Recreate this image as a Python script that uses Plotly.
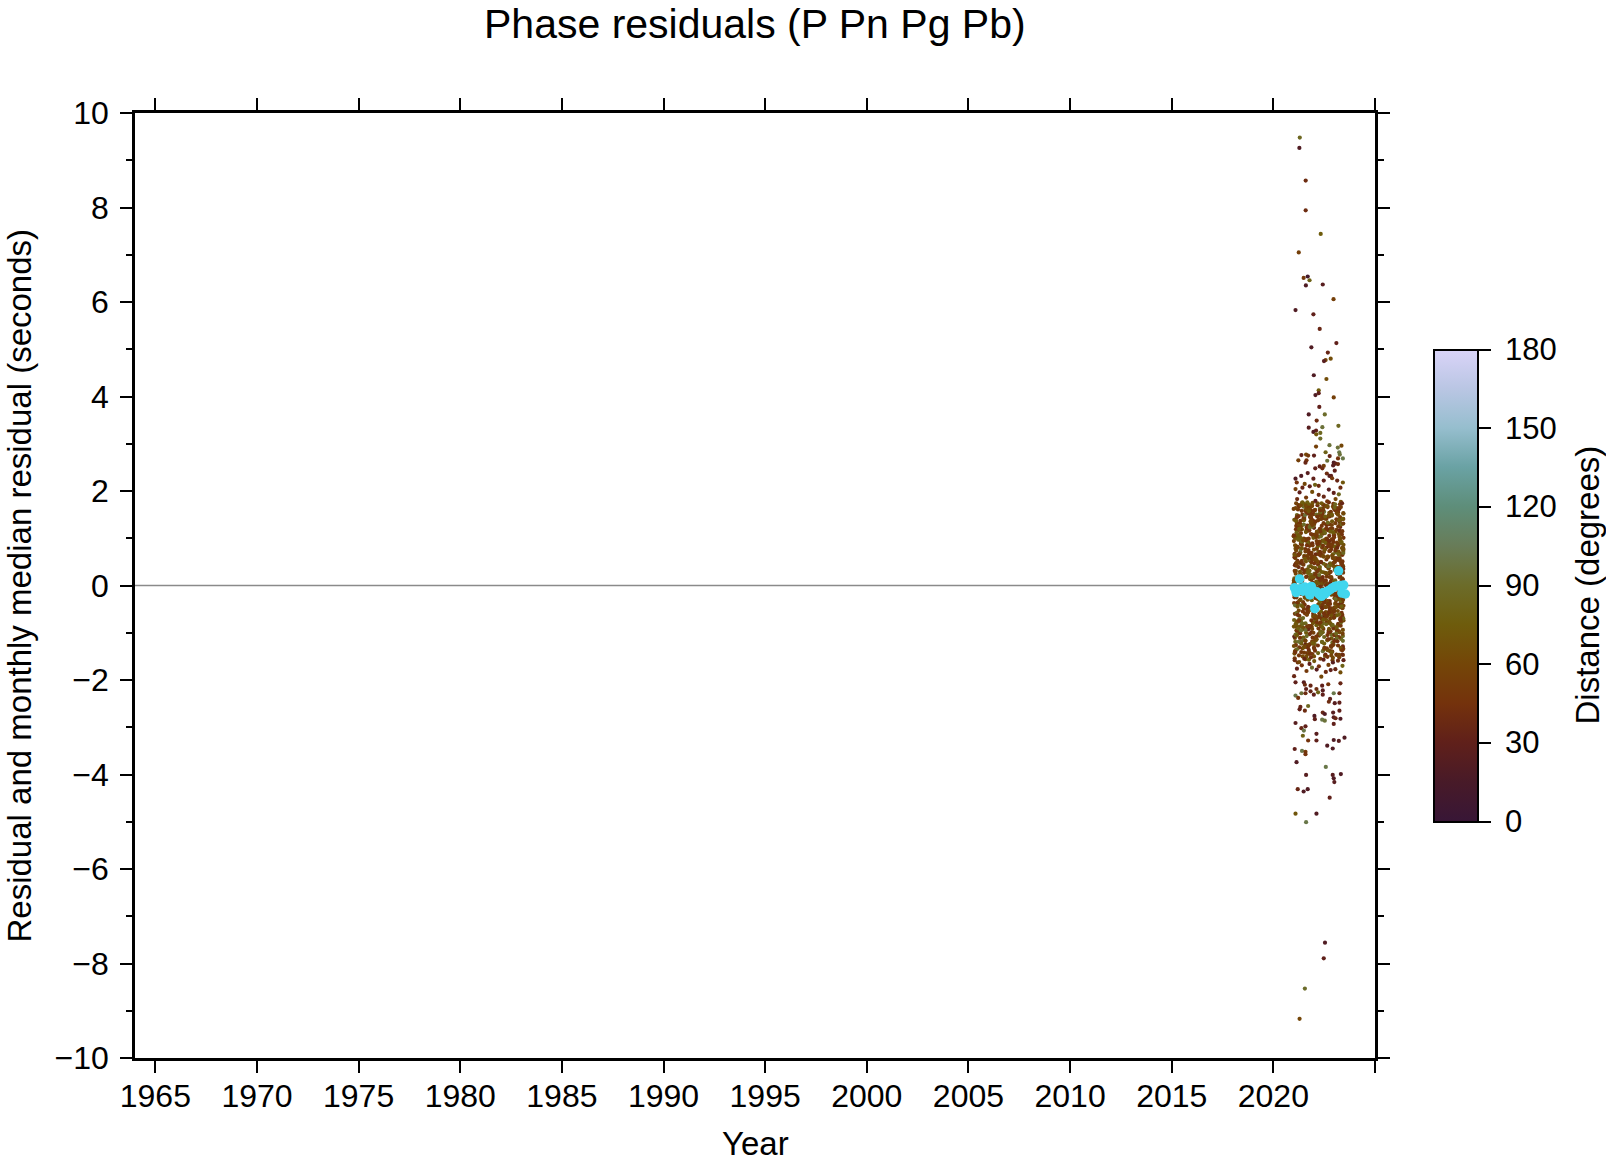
import plotly.graph_objects as go

# ---------------- data ----------------
# dense cloud: year offset after 2021.00 (hundredths of a year), residual (hundredths of s), distance (deg)
dense_dx = [
    12, 187, 94, 233, 41, 158, 76, 209, 3, 121, 66, 240, 135, 28, 181, 99, 217, 54, 146, 7,
    172, 85, 226, 37, 113, 198, 60, 244, 19, 139, 92, 165, 48, 205, 128, 15, 236, 71, 154, 104,
    33, 219, 150, 5, 97, 183, 62, 131, 241, 24, 176, 88, 211, 117, 46, 192, 9, 142, 229, 79,
    201, 57, 125, 16, 238, 167, 101, 30, 213, 83, 147, 1, 190, 68, 223, 110, 39, 161, 245, 91,
    145, 22, 203, 74, 118, 188, 11, 231, 52, 170, 96, 137, 214, 35, 81, 156, 243, 64, 127, 196,
    6, 163, 108, 221, 43, 179, 87, 132, 227, 18, 199, 59, 148, 237, 95, 26, 174, 115, 69, 208,
    124, 239, 50, 185, 14, 102, 159, 216, 77, 140, 32, 195, 89, 234, 120, 8, 168, 45, 206, 153,
    71, 193, 27, 144, 232, 98, 10, 178, 63, 119, 224, 40, 157, 85, 212, 134, 2, 186, 107, 242,
    189, 36, 129, 217, 75, 162, 21, 100, 236, 55, 143, 197, 13, 111, 228, 80, 171, 47, 207, 126,
    58, 141, 230, 90, 4, 175, 116, 200, 34, 152, 67, 244, 103, 184, 23, 136, 220, 78, 166, 42,
    160, 17, 215, 109, 51, 235, 130, 73, 194, 29, 149, 86, 225, 61, 180, 0, 123, 241, 93, 204,
    38, 177, 84, 240, 133, 20, 210, 155, 65, 112, 191, 44, 222, 99, 11, 169, 138, 54, 233, 76,
    218, 106, 31, 164, 70, 238, 145, 7, 187, 122, 49, 202, 92, 15, 151, 226, 82, 173, 25, 118,
    97, 245, 53, 139, 16, 182, 68, 219, 127, 3, 158, 231, 40, 105, 197, 79, 209, 33, 146, 64,
    171, 26, 114, 229, 87, 149, 9, 199, 58, 236, 128, 43, 184, 72, 213, 101, 19, 162, 240, 136,
    45, 206, 131, 12, 95, 175, 242, 62, 117, 190, 28, 153, 81, 224, 108, 37, 193, 141, 6, 221,
    154, 83, 232, 47, 168, 110, 21, 204, 74, 140, 243, 56, 188, 125, 14, 97, 216, 35, 179, 89,
    234, 60, 147, 1, 195, 120, 226, 42, 166, 77, 103, 211, 30, 137, 245, 67, 185, 119, 8, 159,
    18, 183, 98, 239, 51, 135, 205, 85, 10, 160, 228, 113, 39, 192, 70, 143, 24, 217, 93, 174,
    129, 44, 208, 150, 25, 96, 237, 172, 61, 115, 2, 198, 84, 163, 231, 48, 132, 13, 189, 106,
    200, 73, 167, 22, 121, 242, 57, 144, 88, 220, 31, 181, 109, 5, 156, 235, 66, 126, 197, 40,
    82, 214, 11, 138, 186, 53, 104, 227, 19, 170, 92, 243, 46, 201, 134, 27, 161, 75, 222, 112,
    148, 35, 223, 80, 0, 177, 124, 63, 210, 102, 239, 16, 155, 91, 194, 41, 230, 118, 59, 183,
    23, 196, 116, 244, 69, 142, 8, 178, 229, 54, 130, 212, 36, 165, 94, 20, 203, 86, 152, 238,
    111, 241, 49, 191, 136, 15, 218, 76, 157, 29, 107, 186, 65, 233, 127, 4, 172, 99, 225, 50,
    195, 67, 139, 7, 215, 90, 169, 43, 245, 122, 17, 181, 74, 151, 234, 58, 108, 207, 33, 164,
    52, 158, 228, 101, 39, 192, 123, 1, 175, 237, 86, 140, 24, 209, 68, 117, 240, 12, 146, 78,
    179, 30, 95, 204, 128, 221, 56, 161, 14, 114, 236, 71, 189, 46, 100, 166, 3, 219, 135, 87,
    9, 133, 244, 61, 173, 26, 105, 232, 79, 198, 37, 150, 120, 214, 18, 188, 57, 242, 94, 170,
    216, 103, 34, 160, 242, 72, 193, 119, 48, 227, 144, 6, 176, 83, 205, 131, 21, 97, 185, 64,
    87, 211, 14, 156, 228, 63, 134, 5, 182, 99, 240, 41, 173, 118, 26, 197, 75, 145, 222, 52,
    166, 33, 107, 235, 72, 190, 17, 128, 59, 214, 93, 3, 158, 244, 81, 136, 39, 203, 115, 20,
    241, 96, 177, 44, 130, 8, 219, 67, 151, 24, 187, 110, 233, 56, 142, 84, 199, 12, 168, 102,
    31, 148, 62, 207, 119, 238, 79, 181, 2, 164, 45, 226, 91, 137, 16, 213, 68, 124, 194, 57,
    205, 11, 139, 86, 245, 38, 172, 113, 220, 64, 153, 28, 184, 100, 6, 231, 127, 49, 162, 92,
    121, 230, 47, 169, 22, 195, 88, 143, 236, 70, 10, 179, 106, 53, 218, 133, 29, 208, 77, 157,
    66, 183, 125, 1, 209, 98, 152, 37, 240, 115, 191, 82, 19, 227, 58, 167, 104, 242, 35, 140,
    174, 42, 223, 94, 149, 13, 201, 76, 126, 234, 51, 188, 9, 161, 109, 27, 215, 89, 146, 239,
    15, 129, 198, 61, 237, 105, 34, 170, 85, 216, 141, 4, 193, 73, 225, 117, 46, 178, 97, 212,
    224, 78, 155, 32, 112, 243, 65, 186, 21, 132, 204, 50, 176, 95, 7, 150, 229, 83, 123, 40,
    138, 3, 192, 71, 163, 25, 229, 108, 48, 200, 90, 144, 235, 18, 131, 60, 185, 101, 244, 74,
    55, 217, 103, 180, 36, 122, 244, 80, 159, 12, 206, 69, 114, 232, 43, 171, 93, 0, 189, 135,
    196, 64, 147, 28, 221, 87, 166, 9, 135, 238, 54, 175, 111, 37, 210, 82, 152, 227, 19, 120,
    43, 175, 238, 116, 57, 202, 19, 154, 91, 226, 130, 68, 187, 6, 99, 244, 141, 30, 214, 84,
    110, 8, 183, 66, 137, 230, 47, 199, 125, 17, 165, 86, 220, 53, 145, 1, 193, 74, 242, 160,
    232, 89, 21, 150, 203, 39, 118, 176, 62, 241, 97, 157, 29, 213, 80, 127, 11, 184, 58, 106,
    77, 160, 225, 3, 94, 188, 135, 44, 212, 119, 26, 171, 239, 69, 149, 35, 206, 113, 16, 192,
    185, 27, 120, 243, 61, 143, 10, 219, 84, 168, 50, 230, 103, 177, 22, 131, 245, 71, 155, 38,
    4, 141, 209, 87, 174, 31, 100, 236, 149, 59, 196, 13, 124, 80, 218, 166, 42, 111, 228, 93,
    153, 218, 55, 132, 14, 179, 242, 92, 36, 205, 121, 163, 75, 1, 189, 108, 224, 48, 139, 65,
]
dense_res = [
    45, -112, 137, -38, 92, 11, -87, 164, -5, 71, -143, 28, 118, -64, 153, -21, 84, -128, 6, 59,
    -96, 132, 17, -71, 108, -19, 161, -134, 52, -47, 89, -8, 142, -115, 34, 127, -58, 73, -149, 103,
    22, -81, 156, 67, -122, 9, 115, -33, 81, -101, 146, -15, 40, 170, -69, 98, -137, 13, 124, -52,
    -27, 77, -106, 149, 3, -61, 130, 48, -93, 166, -12, 105, -140, 63, -44, 19, 158, -78, 86, -118,
    111, -3, 55, -127, 174, -49, 31, -85, 139, 95, -66, 2, -109, 121, 69, -146, 37, -24, 150, -91,
    -60, 128, -17, 87, -133, 47, -99, 16, 172, -41, 102, -125, 61, -7, 136, -76, 26, 113, -56, 79,
    140, -35, 99, -104, 12, 159, -72, 57, -141, 83, 24, -89, 168, -11, 44, -119, 117, 0, -63, 93,
    -14, 66, -131, 110, -46, 151, 25, -98, 74, -29, 162, -83, 8, 126, -147, 50, -37, 97, 135, -107,
    82, -120, 39, -54, 165, 4, -94, 122, -30, 58, -139, 107, 15, -74, 145, -2, 90, -111, 32, -43,
    -80, 152, -23, 61, -144, 119, 20, -67, 94, 167, -51, 35, -124, 76, -9, 141, -97, 53, -33, 10,
    129, -58, 71, -116, 27, -10, 155, -86, 42, 100, -135, 64, -26, 171, -70, 5, 115, -102, 85, -39,
    -123, 18, 144, -48, 91, -90, 33, 169, -62, 7, 120, -150, 56, -20, 104, -79, 147, 30, -113, 68,
    54, -73, 125, -6, -130, 79, 160, -42, 14, -103, 96, 38, -145, 133, -16, 62, -88, 176, -53, 21,
    -100, 101, -40, 163, -77, 29, -126, 88, -4, 139, -57, 112, 46, -138, 1, 157, -31, 70, -92, 123,
    36, -148, 78, -25, 134, -65, 9, 106, -117, 49, -82, 173, -13, 92, -108, 23, -45, 143, 65, -70,
    -55, 114, -97, 42, -1, 154, -129, 74, 19, -84, 131, -36, 87, -152, 57, -18, 167, -68, 3, 109,
    97, -28, 166, -110, 60, -75, 116, 11, -136, 80, 41, -59, 148, -22, -95, 127, 24, -121, 73, -8,
    -136, 51, -15, 94, -68, 138, -44, 175, -105, 31, -3, 118, -87, 65, 152, -50, 18, -127, 100, 43,
    13, 156, -63, 29, -142, 85, -24, 109, -81, 141, 67, -114, 48, -9, 123, -99, 170, -41, 6, -76,
    120, -89, 58, -32, 147, -120, 36, -57, 98, 21, -73, 163, -12, 81, -132, 44, -65, 126, -19, 160,
    -47, 75, -137, 106, 16, -94, 158, -28, 69, -11, 131, -80, 35, -154, 90, 140, -60, 8, -104, 52,
    159, -18, 47, -70, 117, -41, 2, 134, -100, 86, -123, 27, 172, -54, 63, -6, 99, -145, 39, -84,
    -71, 88, -109, 14, 162, -33, 103, 60, -146, 25, -62, 145, 77, -92, -2, 119, -38, 50, 168, -128,
    64, -125, 30, 153, -52, 95, -86, 4, 129, -15, 71, -112, 111, -43, 38, -163, 83, 157, -27, 15,
    -108, 40, 138, -64, 5, -95, 70, 171, -34, 124, 53, -140, 19, -78, 93, -25, 148, -58, 116, -131,
    2, 127, -43, 85, -118, 57, -9, 150, -74, 33, 108, -97, 165, -21, 46, -156, 66, -1, 137, -65,
    143, -57, 20, -134, 99, -16, 66, -87, 130, 10, -48, 161, -119, 55, -30, 89, -66, 174, 28, -103,
    -39, 104, -79, 159, -6, 72, -116, 41, -59, 113, 1, -93, 136, -35, 76, -151, 15, 125, -86, 49,
    78, -13, 141, -100, 37, 167, -53, 92, -26, 58, -141, 117, -5, 80, -76, 150, 32, -117, 61, -45,
    -85, 59, -30, 121, -147, 26, 97, -68, 170, -4, 84, -111, 43, -49, 132, 11, -91, 107, -19, 154,
    12, -88, 143, -45, 67, -130, 104, 31, -19, 158, -72, 86, -114, 5, 127, -56, 40, 171, -97, 63,
    -35, 119, -76, 8, 152, -121, 49, -2, 95, -63, 138, -108, 26, 73, -144, 110, -14, 165, -51, 82,
    141, -60, 28, -93, 115, 58, -27, 176, -132, 39, -84, 102, -7, 149, -40, 20, -118, 74, 133, -69,
    -111, 46, 160, -17, 83, -146, 124, -53, 11, 98, -81, 57, 169, -28, -135, 91, 34, -66, 112, -4,
    70, -126, 15, 135, -43, 93, -99, 53, 164, -12, 7, -71, 121, -150, 43, -33, 148, -90, 25, 107,
    -8, 100, -115, 61, -38, 173, -86, 18, 130, -57, 84, -139, 37, -22, 155, -103, 68, -46, 117, 2,
    154, -50, 89, -128, 33, -10, 142, -77, 51, 114, -158, 23, -36, 97, -94, 166, -64, 13, 78, -120,
    -92, 35, -147, 125, 71, -25, 9, 161, -59, 90, -16, 128, -104, 55, 4, -74, 139, -31, 62, -137,
    43, 163, -68, -1, 108, -113, 76, -39, 145, 24, -88, 60, -153, 116, -21, 88, 174, -52, 16, -96,
    -61, 84, 27, -101, 150, -30, 118, -142, 64, -8, 172, -49, 94, -79, 30, -123, 52, 136, -11, 79,
    126, -20, -84, 58, -133, 102, 38, -65, 167, -105, 17, 147, -44, 81, -3, 113, -148, 47, -70, 99,
    -26, 157, -54, 114, 21, -91, 69, -124, 1, 137, -37, 88, -78, 177, -15, 41, -110, 104, -57, 29,
    92, -107, 132, -32, 66, -74, 168, 13, -55, 45, -129, 105, 8, -42, 140, -86, 75, -18, 122, -143,
    -44, 73, -12, 146, -117, 33, -62, 111, 56, -99, 159, -24, 87, -140, 19, 131, -48, 67, -6, 151,
    109, -141, 44, -87, 174, -3, 96, -53, 22, 80, -116, 142, -29, 60, -73, 10, -126, 157, 36, -82,
    -75, 17, 161, -109, 50, 127, -19, 83, -150, 38, 101, -46, 9, -96, 145, -36, 119, -63, 72, 24,
    31, -65, 103, -14, -122, 86, 49, -90, 153, -7, 66, -137, 115, 28, -59, 170, -28, 94, -106, 58,
    -130, 120, -41, 76, 18, -80, 164, -23, 41, -114, 129, -69, 55, -2, 97, -155, 77, -45, 146, 6,
    65, -6, -102, 136, -57, 29, -131, 92, -34, 169, 48, -83, -16, 123, -127, 61, 14, 105, -72, 175,
    -18, 150, 57, -78, 112, -48, 2, 128, -95, 74, -42, 19, -157, 106, 63, -27, 138, -9, -119, 85,
]
dense_dist = [
    48, 72, 41, 55, 88, 44, 52, 67, 30, 79, 46, 58, 91, 50, 43, 74, 53, 27, 63, 49,
    45, 83, 51, 60, 36, 47, 76, 54, 42, 89, 40, 66, 52, 25, 57, 81, 44, 50, 70, 46,
    56, 43, 94, 38, 62, 48, 45, 73, 33, 55, 47, 78, 59, 41, 86, 49, 64, 52, 39, 75,
    68, 42, 53, 82, 46, 31, 58, 47, 90, 44, 72, 51, 40, 61, 45, 97, 49, 43, 67, 55,
    37, 77, 46, 50, 64, 44, 87, 48, 56, 35, 70, 52, 80, 45, 59, 41, 53, 92, 47, 62,
    49, 46, 71, 43, 55, 79, 39, 63, 47, 85, 51, 29, 66, 48, 74, 52, 42, 57, 93, 45,
    61, 52, 44, 88, 41, 50, 68, 34, 77, 47, 56, 43, 64, 50, 46, 83, 48, 70, 38, 58,
    45, 73, 49, 40, 81, 46, 60, 53, 44, 66, 32, 90, 48, 55, 75, 42, 50, 62, 47, 86,
    52, 39, 78, 59, 45, 69, 48, 36, 56, 44, 95, 50, 65, 43, 53, 76, 46, 41, 72, 49,
    84, 47, 55, 45, 64, 38, 51, 74, 44, 58, 49, 33, 82, 46, 67, 52, 45, 89, 54, 48,
    43, 62, 50, 71, 48, 45, 86, 47, 59, 37, 68, 53, 46, 78, 51, 63, 35, 55, 47, 73,
    65, 49, 44, 57, 91, 48, 40, 67, 52, 80, 46, 61, 50, 42, 72, 47, 56, 51, 84, 45,
    47, 79, 58, 38, 50, 66, 46, 94, 44, 53, 43, 70, 49, 62, 45, 88, 48, 39, 60, 76,
    54, 46, 67, 50, 75, 41, 61, 49, 31, 72, 47, 56, 89, 45, 52, 65, 48, 81, 51, 42,
    77, 48, 45, 64, 43, 55, 97, 47, 68, 46, 50, 40, 61, 74, 49, 44, 69, 53, 46, 85,
    46, 60, 82, 49, 47, 71, 37, 57, 51, 90, 45, 65, 43, 53, 78, 48, 62, 34, 50, 67,
    59, 44, 52, 76, 48, 46, 64, 87, 42, 49, 73, 47, 56, 39, 69, 52, 45, 80, 48, 62,
    50, 68, 46, 54, 83, 49, 43, 60, 47, 75, 40, 52, 66, 45, 92, 48, 58, 44, 71, 46,
    70, 47, 63, 41, 52, 86, 48, 45, 74, 50, 44, 67, 36, 59, 47, 81, 49, 55, 43, 64,
    48, 91, 49, 66, 45, 58, 72, 44, 51, 46, 79, 48, 62, 41, 68, 50, 96, 49, 45, 57,
    56, 45, 75, 50, 40, 64, 48, 83, 47, 61, 46, 70, 38, 52, 77, 49, 59, 44, 88, 48,
    43, 67, 53, 47, 89, 45, 57, 40, 72, 49, 63, 51, 46, 80, 48, 35, 65, 54, 47, 74,
    62, 48, 46, 78, 55, 42, 69, 52, 47, 94, 48, 44, 66, 57, 50, 73, 41, 61, 49, 46,
    49, 82, 47, 59, 45, 71, 48, 38, 63, 54, 46, 87, 51, 44, 68, 47, 76, 48, 56, 65,
    47, 55, 73, 48, 66, 46, 52, 77, 43, 60, 49, 68, 47, 84, 50, 45, 62, 48, 37, 70,
    74, 49, 51, 62, 42, 47, 85, 48, 57, 50, 71, 45, 53, 65, 46, 59, 39, 81, 49, 54,
    51, 64, 45, 48, 76, 58, 47, 69, 46, 41, 61, 52, 92, 47, 67, 50, 44, 56, 75, 43,
    46, 78, 56, 45, 50, 67, 48, 61, 88, 47, 53, 36, 70, 49, 59, 46, 82, 51, 64, 48,
    66, 47, 49, 72, 57, 44, 80, 50, 46, 63, 48, 75, 52, 40, 61, 71, 47, 90, 48, 58,
    52, 60, 69, 46, 48, 83, 45, 56, 50, 74, 47, 64, 42, 68, 54, 49, 77, 47, 62, 45,
    48, 70, 46, 82, 56, 43, 89, 49, 65, 47, 76, 52, 38, 72, 59, 48, 94, 50, 44, 67,
    61, 47, 78, 49, 41, 86, 54, 68, 48, 74, 46, 34, 91, 57, 45, 70, 51, 80, 47, 62,
    73, 44, 53, 88, 48, 64, 46, 77, 51, 40, 69, 58, 47, 96, 49, 75, 45, 60, 84, 48,
    47, 79, 62, 48, 71, 39, 92, 50, 66, 46, 81, 49, 59, 43, 87, 52, 68, 47, 74, 56,
    85, 49, 46, 66, 57, 83, 44, 61, 48, 72, 47, 90, 51, 64, 41, 77, 55, 48, 70, 49,
    54, 67, 89, 46, 76, 48, 60, 42, 82, 49, 65, 47, 73, 56, 45, 84, 50, 63, 44, 78,
    48, 75, 49, 61, 40, 70, 53, 87, 47, 64, 51, 80, 46, 59, 93, 48, 68, 43, 56, 72,
    66, 45, 57, 84, 50, 47, 77, 62, 49, 71, 42, 55, 88, 48, 67, 49, 46, 76, 60, 47,
    51, 82, 48, 69, 46, 59, 95, 47, 64, 52, 74, 45, 62, 48, 80, 44, 71, 54, 47, 86,
    77, 48, 65, 43, 90, 53, 47, 72, 58, 49, 84, 50, 41, 68, 55, 75, 48, 63, 47, 70,
    47, 61, 81, 54, 48, 73, 45, 58, 92, 47, 66, 49, 77, 52, 40, 69, 60, 46, 83, 48,
    63, 46, 52, 76, 67, 48, 86, 49, 44, 71, 56, 80, 47, 61, 48, 94, 47, 65, 51, 74,
    46, 89, 49, 60, 78, 45, 64, 53, 75, 47, 62, 42, 71, 85, 50, 47, 67, 57, 48, 79,
    72, 49, 66, 47, 55, 91, 46, 80, 48, 63, 47, 74, 45, 59, 68, 52, 41, 82, 61, 47,
    57, 44, 75, 50, 70, 47, 61, 48, 88, 54, 78, 48, 65, 46, 73, 60, 49, 69, 45, 81,
    47, 68, 50, 85, 48, 59, 74, 47, 63, 43, 70, 57, 96, 49, 52, 78, 47, 66, 54, 49,
    79, 48, 62, 46, 73, 51, 42, 67, 55, 83, 47, 64, 48, 76, 45, 61, 90, 49, 71, 58,
    50, 76, 47, 63, 49, 82, 58, 46, 69, 48, 89, 45, 60, 52, 77, 47, 65, 40, 74, 56,
    68, 47, 84, 56, 44, 65, 49, 75, 46, 61, 53, 71, 48, 87, 47, 59, 78, 51, 43, 66,
    48, 60, 71, 49, 80, 46, 64, 54, 91, 47, 67, 51, 75, 45, 62, 49, 70, 57, 82, 46,
]

# sparse / outlying points read individually: decimal year, residual (s), distance (deg)
sparse_year = [
    2021.30, 2021.28, 2021.59, 2021.59, 2022.33, 2021.25, 2021.49, 2021.69, 2021.78, 2021.60,
    2022.43, 2022.96, 2021.09, 2021.97, 2022.28, 2023.10, 2021.87, 2022.68, 2022.57, 2022.49,
    2022.82, 2021.99, 2022.61, 2022.23, 2022.23, 2022.07, 2022.97, 2022.26, 2021.74, 2022.53,
    2022.13, 2021.74, 2023.20, 2022.41, 2022.10, 2021.97, 2022.31, 2022.11, 2022.31, 2022.76,
    2022.10, 2023.17, 2023.35, 2023.24, 2022.57, 2021.38, 2021.61, 2021.71, 2022.00, 2022.77,
    2023.27, 2023.42, 2023.18, 2021.23, 2021.63, 2022.65, 2021.58, 2022.97, 2023.06, 2023.18,
    2022.94, 2022.28, 2022.48, 2022.41, 2022.06, 2023.02, 2021.69, 2022.63, 2022.76, 2022.84,
    2021.37, 2021.09, 2021.97,
    2021.15, 2021.43, 2021.54, 2021.79, 2022.05, 2022.23, 2022.48, 2022.89, 2023.14, 2023.42,
    2023.30, 2022.73, 2021.09, 2021.29, 2021.91, 2022.23, 2022.97, 2023.22, 2022.48, 2021.61,
    2021.17, 2023.06, 2022.65, 2022.07, 2021.43, 2023.38,
    2021.05, 2021.27, 2021.52, 2021.78, 2022.01, 2022.24, 2022.47, 2022.71, 2022.93, 2023.18,
    2023.40, 2021.16, 2021.63, 2022.13, 2022.58, 2023.05, 2023.30, 2021.40, 2021.90, 2022.82,
    2021.02, 2022.36, 2023.45, 2021.85,
    2021.09, 2021.50, 2021.55, 2021.83, 2022.40, 2022.70, 2023.30, 2021.61, 2022.12, 2022.43,
    2021.83, 2022.97, 2021.09, 2021.38, 2021.58, 2021.99, 2022.20, 2022.43, 2021.22, 2022.79,
    2023.25, 2022.73, 2023.02, 2023.25, 2021.33, 2021.71, 2021.55, 2021.29, 2022.43, 2022.94,
    2023.25, 2022.53, 2022.97, 2022.02, 2022.04, 2023.30, 2023.06, 2022.40, 2022.53, 2021.09,
    2022.97, 2021.38, 2021.58, 2021.50, 2022.12, 2021.45, 2023.50, 2021.71, 2022.12, 2022.97,
    2023.22, 2022.65, 2021.05, 2021.41, 2021.58, 2021.58, 2022.92, 2021.14, 2022.58, 2021.61,
    2022.92, 2022.97, 2023.32, 2023.00, 2021.20, 2021.49, 2021.69, 2022.77, 2021.09, 2022.12,
    2021.61, 2022.54, 2022.48, 2021.55, 2021.29,
]
sparse_res = [
    9.48, 9.26, 8.57, 7.94, 7.44, 7.05, 6.51, 6.54, 6.46, 6.35,
    6.37, 6.06, 5.83, 5.74, 5.43, 5.13, 5.04, 4.93, 4.77, 4.75,
    4.80, 4.45, 4.37, 4.13, 4.07, 4.03, 3.98, 3.78, 3.62, 3.62,
    3.49, 3.34, 3.38, 3.35, 3.28, 3.25, 3.23, 3.20, 3.11, 2.97,
    2.94, 2.92, 2.96, 2.82, 2.82, 2.76, 2.77, 2.75, 2.75, 2.74,
    2.77, 2.69, 2.69, 2.65, 2.65, 2.64, 2.60, 2.60, 2.58, 2.57,
    2.54, 2.52, 2.53, 2.48, 2.48, 2.43, 2.38, 2.37, 2.32, 2.32,
    2.32, 2.26, 2.26,
    2.18, 2.07, 2.15, 2.10, 2.13, 2.11, 2.22, 2.27, 2.22, 2.18,
    2.07, 2.03, 2.04, 1.97, 1.98, 1.92, 1.96, 1.93, 1.88, 1.86,
    1.83, 1.83, 1.78, 1.79, 1.76, 1.74,
    -1.58, -1.62, -1.55, -1.66, -1.60, -1.71, -1.57, -1.68, -1.63, -1.59,
    -1.70, -1.76, -1.81, -1.78, -1.83, -1.77, -1.84, -1.69, -1.74, -1.79,
    -1.92, -1.93, -1.58, -1.52,
    -2.05, -2.05, -2.10, -2.12, -2.12, -2.09, -2.07, -2.19, -2.19, -2.22,
    -2.24, -2.28, -2.33, -2.28, -2.28, -2.31, -2.26, -2.31, -2.38, -2.40,
    -2.28, -2.46, -2.49, -2.48, -2.57, -2.55, -2.65, -2.62, -2.69, -2.69,
    -2.65, -2.72, -2.79, -2.76, -2.83, -2.82, -2.81, -2.84, -2.86, -2.91,
    -2.93, -3.02, -2.98, -3.07, -3.14, -3.18, -3.22, -3.28, -3.28, -3.27,
    -3.29, -3.39, -3.46, -3.50, -3.52, -3.57, -3.45, -3.74, -3.84, -4.01,
    -4.01, -4.08, -3.99, -4.16, -4.31, -4.36, -4.31, -4.49, -4.83, -4.83,
    -5.01, -7.56, -7.89, -8.53, -9.17,
]
sparse_dist = [
    85, 20, 40, 40, 75, 55, 50, 10, 80, 20,
    25, 55, 20, 30, 35, 30, 20, 35, 60, 25,
    65, 20, 65, 75, 30, 20, 55, 30, 20, 90,
    40, 25, 85, 95, 30, 20, 85, 70, 90, 95,
    55, 95, 60, 100, 80, 30, 60, 50, 30, 35,
    95, 100, 45, 55, 45, 95, 35, 20, 30, 40,
    25, 30, 55, 40, 30, 30, 25, 40, 25, 30,
    20, 20, 30,
    45, 35, 60, 30, 80, 40, 30, 50, 35, 70,
    40, 25, 55, 30, 65, 40, 30, 85, 35, 50,
    40, 60, 45, 30, 75, 35,
    40, 60, 35, 30, 70, 45, 30, 55, 25, 40,
    80, 30, 50, 25, 40, 35, 65, 45, 90, 30,
    35, 60, 30, 40,
    30, 25, 40, 35, 30, 45, 35, 30, 40, 25,
    35, 100, 100, 95, 40, 30, 80, 30, 45, 30,
    35, 40, 25, 30, 35, 85, 40, 30, 35, 25,
    30, 20, 25, 20, 30, 20, 35, 100, 95, 25,
    30, 35, 30, 100, 25, 80, 20, 45, 30, 20,
    25, 20, 30, 100, 50, 45, 20, 20, 100, 25,
    25, 20, 20, 25, 35, 20, 20, 30, 70, 20,
    100, 20, 30, 90, 60,
]

# monthly median residuals
median_year = [
    2021.04, 2021.12, 2021.21, 2021.29, 2021.37, 2021.46, 2021.54, 2021.62, 2021.71, 2021.79,
    2021.87, 2021.96, 2022.04, 2022.12, 2022.21, 2022.29, 2022.37, 2022.46, 2022.54, 2022.62,
    2022.71, 2022.79, 2022.87, 2022.96, 2023.04, 2023.12, 2023.21, 2023.29, 2023.37, 2023.46,
    2023.54,
]
median_res = [
    -0.05, -0.15, -0.10, 0.14, -0.06, -0.12, -0.03, -0.10, -0.08, -0.20,
    -0.02, -0.12, -0.49, -0.13, -0.17, -0.20, -0.23, -0.15, -0.18, -0.14,
    -0.11, -0.09, -0.06, -0.04, -0.02, -0.01, 0.31, 0.00, -0.16, 0.01,
    -0.18,
]

year_ticks = [1965, 1970, 1975, 1980, 1985, 1990, 1995, 2000, 2005, 2010, 2015, 2020, 2025]
year_labels = ["1965", "1970", "1975", "1980", "1985", "1990", "1995", "2000",
               "2005", "2010", "2015", "2020", ""]
res_ticks = [-10, -8, -6, -4, -2, 0, 2, 4, 6, 8, 10]
res_minor = [-9, -7, -5, -3, -1, 1, 3, 5, 7, 9]
dist_ticks = [0, 30, 60, 90, 120, 150, 180]
dist_min, dist_max = 0, 180

# ---------------- figure ----------------
FONT = "Liberation Sans, Arial, Helvetica, sans-serif"

dist_scale = [
    [0.000, "rgb(56,22,54)"],
    [0.083, "rgb(72,26,40)"],
    [0.167, "rgb(96,32,26)"],
    [0.250, "rgb(116,50,12)"],
    [0.333, "rgb(116,70,8)"],
    [0.417, "rgb(110,92,12)"],
    [0.500, "rgb(108,108,42)"],
    [0.583, "rgb(104,124,88)"],
    [0.667, "rgb(94,142,122)"],
    [0.750, "rgb(106,162,164)"],
    [0.833, "rgb(150,190,206)"],
    [0.917, "rgb(186,198,228)"],
    [1.000, "rgb(218,212,248)"],
]

all_x = [2021.0 + v / 100.0 for v in dense_dx] + sparse_year
all_y = [v / 100.0 for v in dense_res] + sparse_res
all_d = list(dense_dist) + sparse_dist
n = min(len(all_x), len(all_y), len(all_d))
all_x, all_y, all_d = all_x[:n], all_y[:n], all_d[:n]

# plot-area geometry (pixels) used to place the colour bar and titles
W, H = 1606, 1161
ML, MR, MT, MB = 135, 231, 113, 103
PW, PH = W - ML - MR, H - MT - MB
CB_LEN = 472          # colour-bar length in px, centred on the plot area
CB_X0 = 1434          # colour-bar left edge in px
CB_TH = 44            # colour-bar thickness in px


def px_to_paper_x(px):
    return (px - ML) / PW


def px_to_paper_y(py):
    return (H - MB - py) / PH


fig = go.Figure()
fig.add_trace(go.Scatter(
    x=all_x, y=all_y, mode="markers",
    marker=dict(
        size=4.2, color=all_d, colorscale=dist_scale, cmin=dist_min, cmax=dist_max,
        line=dict(width=0),
        colorbar=dict(
            tickvals=dist_ticks, ticks="outside", ticklen=12, tickwidth=2,
            tickcolor="black", outlinewidth=2, outlinecolor="black",
            showticklabels=False,
            thickness=CB_TH, thicknessmode="pixels", len=CB_LEN, lenmode="pixels",
            x=px_to_paper_x(CB_X0), xanchor="left", xpad=0,
            y=0.5, yanchor="middle", ypad=0,
        ),
    ),
    showlegend=False, hoverinfo="skip",
))
fig.add_trace(go.Scatter(
    x=median_year, y=median_res, mode="markers",
    marker=dict(size=9.5, color="#41d6ee", line=dict(width=0)),
    showlegend=False, hoverinfo="skip",
))

axis_common = dict(
    showline=True, linewidth=2.5, linecolor="black", mirror="ticks",
    ticks="outside", ticklen=12, tickwidth=2, tickcolor="black",
    showgrid=False, zeroline=False,
    tickfont=dict(family=FONT, size=32, color="black"),
)

annotations = [
    dict(text="Phase residuals (P Pn Pg Pb)", xref="paper", yref="paper",
         x=0.5, y=px_to_paper_y(0), xanchor="center", yanchor="top", showarrow=False,
         borderpad=0, font=dict(family=FONT, size=41, color="black")),
    dict(text="Year", xref="paper", yref="paper",
         x=0.5, y=px_to_paper_y(1143), xanchor="center", yanchor="middle", showarrow=False,
         font=dict(family=FONT, size=33, color="black")),
    dict(text="Residual and monthly median residual (seconds)", xref="paper", yref="paper",
         x=px_to_paper_x(19), y=0.5, xanchor="center", yanchor="middle", textangle=-90,
         showarrow=False, font=dict(family=FONT, size=33, color="black")),
    dict(text="Distance (degrees)", xref="paper", yref="paper",
         x=px_to_paper_x(1587), y=0.5, xanchor="center", yanchor="middle", textangle=-90,
         showarrow=False, font=dict(family=FONT, size=33, color="black")),
]
# colour-bar tick labels, placed along the bar from the distance scale
cb_top = MT + PH / 2 - CB_LEN / 2
for v in dist_ticks:
    py = cb_top + CB_LEN * (1 - (v - dist_min) / (dist_max - dist_min))
    annotations.append(dict(
        text=str(v), xref="paper", yref="paper",
        x=px_to_paper_x(1503), y=px_to_paper_y(py), xanchor="left", yanchor="middle",
        showarrow=False, font=dict(family=FONT, size=31, color="black")))

fig.update_layout(
    width=W, height=H, autosize=False,
    margin=dict(l=ML, r=MR, t=MT, b=MB),
    paper_bgcolor="white", plot_bgcolor="white",
    font=dict(family=FONT, color="black"),
    xaxis=dict(range=[1964, 2025], tickvals=year_ticks, ticktext=year_labels,
               ticklabelstandoff=-4, **axis_common),
    yaxis=dict(range=[-10, 10], tickvals=res_ticks, ticklabelstandoff=5,
               minor=dict(tickvals=res_minor, ticks="outside", ticklen=6,
                          tickwidth=2, tickcolor="black", showgrid=False),
               **axis_common),
    shapes=[dict(type="line", xref="paper", yref="y", x0=0, x1=1, y0=0, y1=0,
                 line=dict(color="#8a8a8a", width=1.5), layer="below")],
    annotations=annotations,
)

# remove the default 8px page margin so the figure fills the window exactly
fig.write_html("out.html",
               config={"displayModeBar": False},
               post_script="document.body.style.margin='0';document.body.style.overflow='hidden';")
